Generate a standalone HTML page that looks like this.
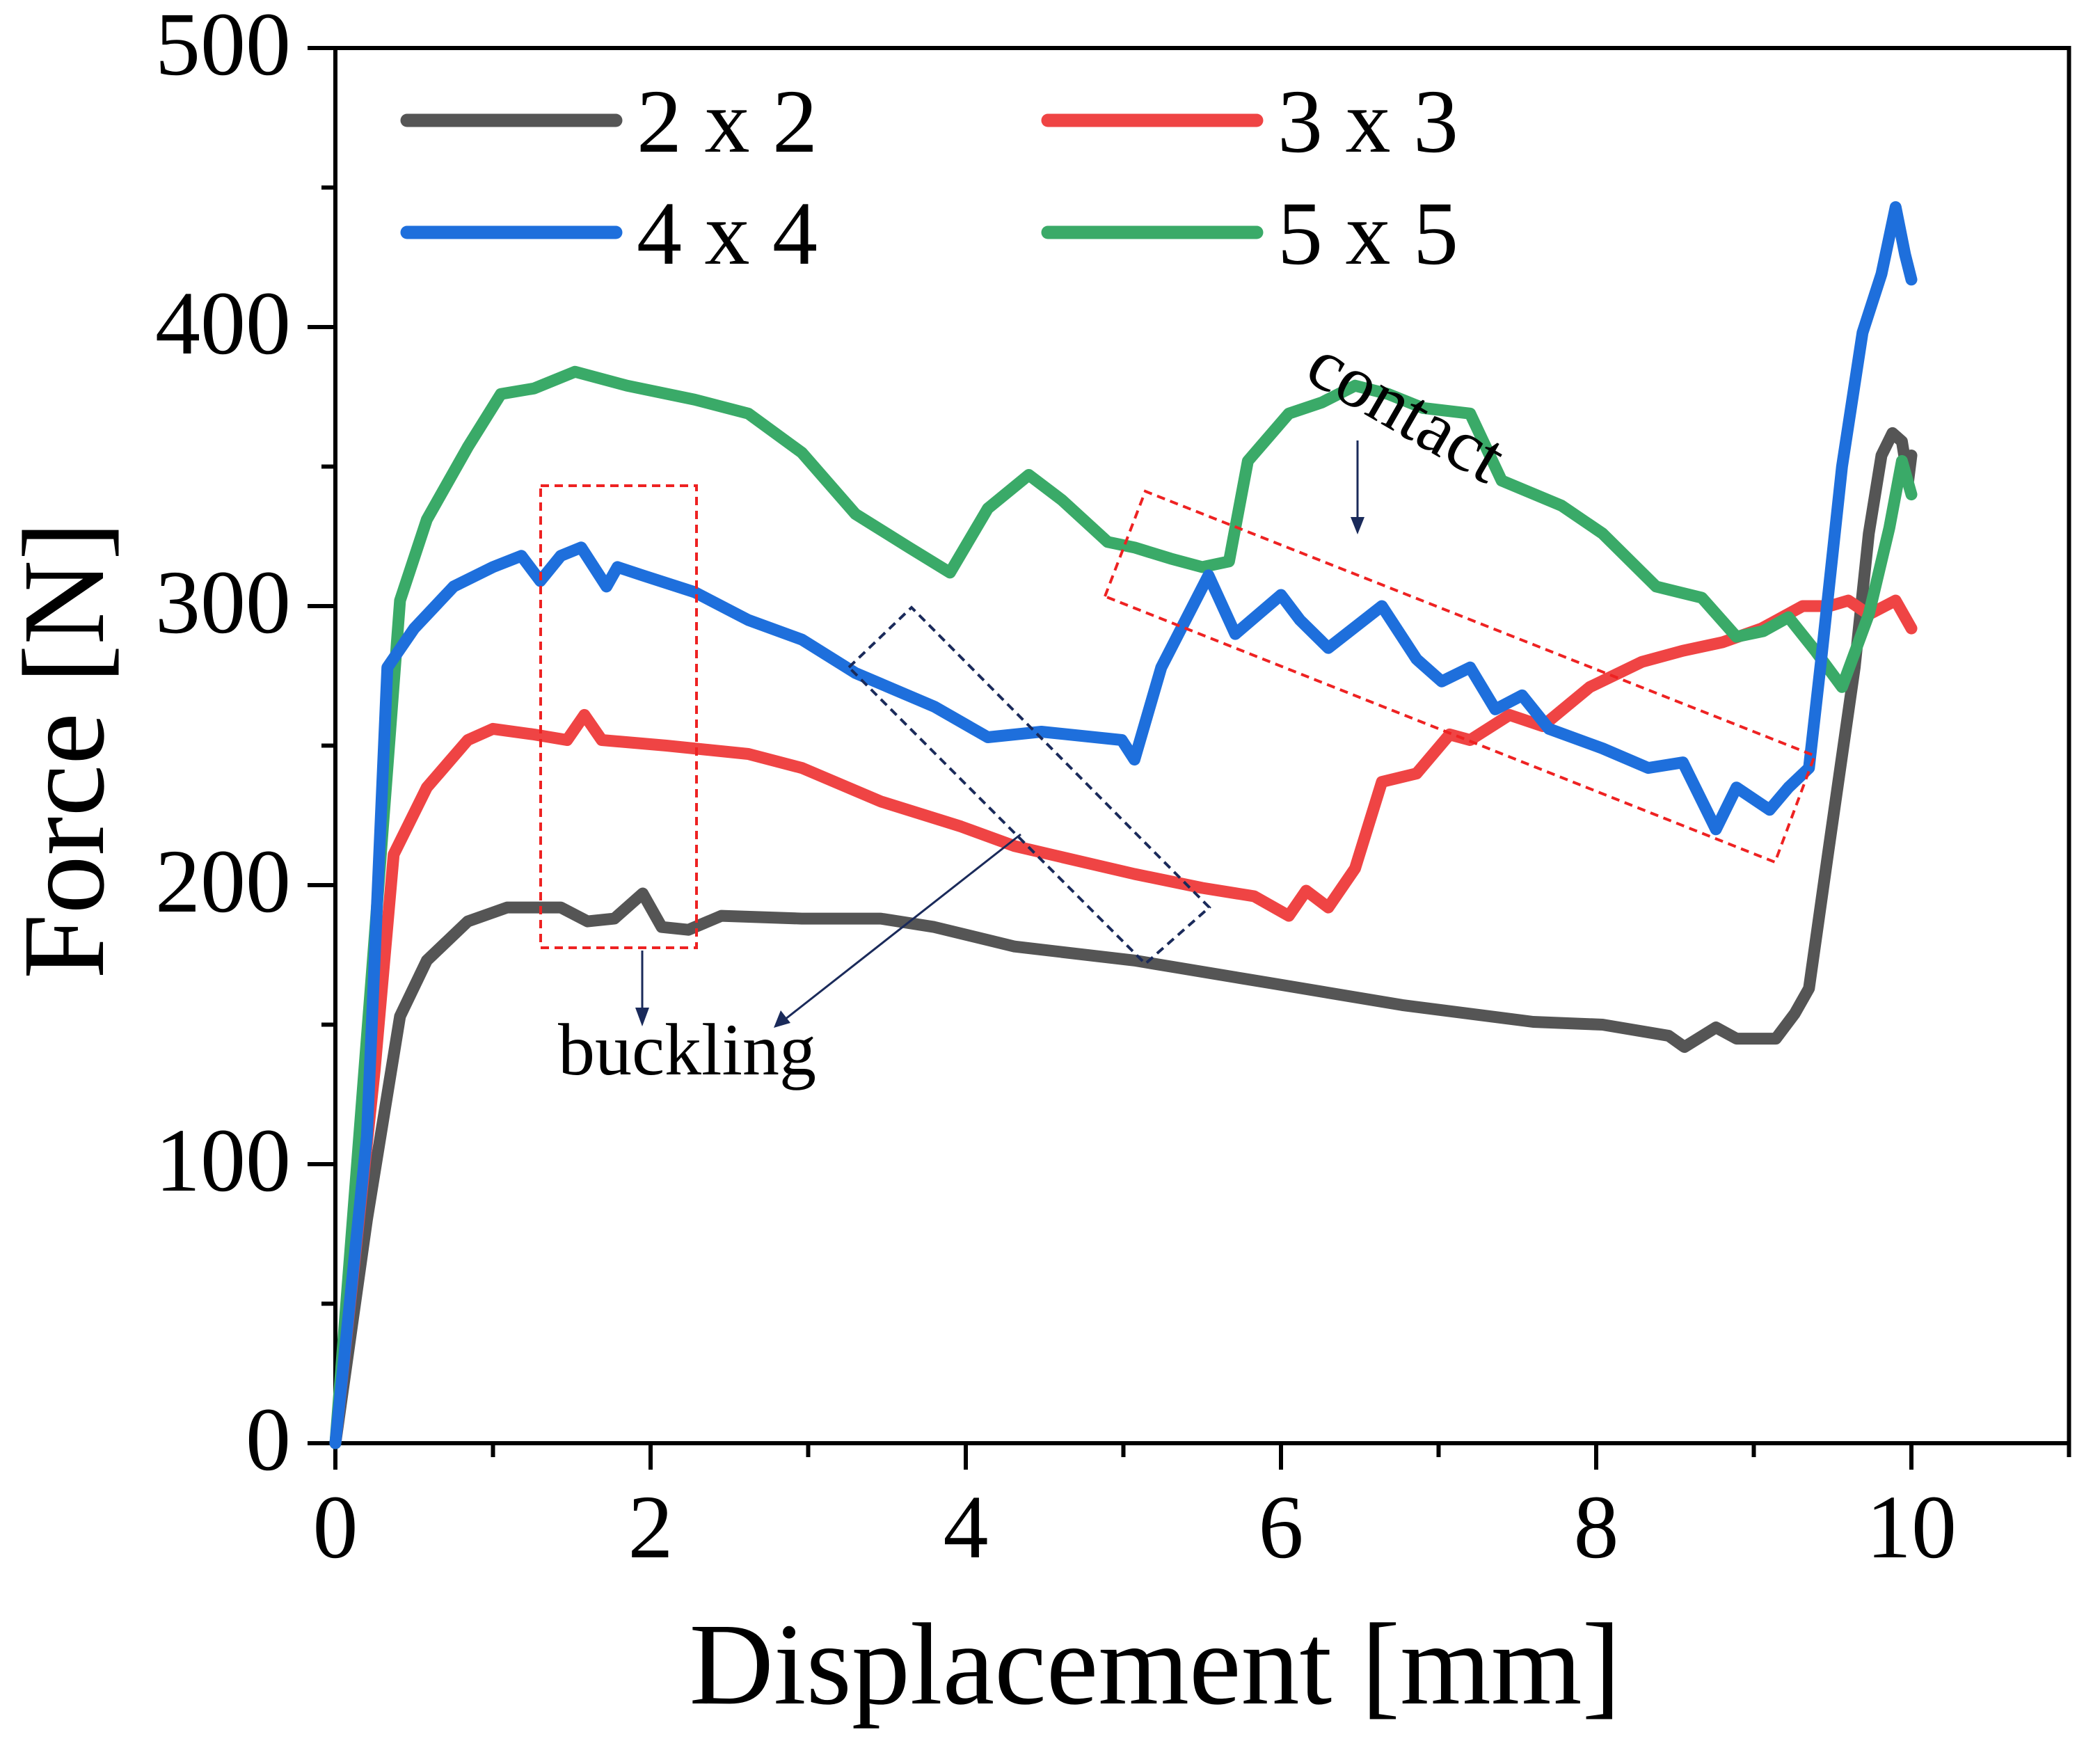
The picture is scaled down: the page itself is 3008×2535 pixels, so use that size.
<!DOCTYPE html>
<html><head><meta charset="utf-8"><style>
html,body{margin:0;padding:0;background:#fff;}
svg{display:block;font-family:"Liberation Serif",serif;}
</style></head><body>
<svg id="chart" width="3008" height="2535" viewBox="0 0 3008 2535" xmlns="http://www.w3.org/2000/svg">
<rect width="3008" height="2535" fill="#fff"/>
<g id="axes"></g>
<g id="series"></g>
<g id="annot">
  <polygon points="777,698 1001,698 1001,1362 777,1362" fill="none" stroke="#ee2222" stroke-width="4" stroke-dasharray="12,8"/>
  <polygon points="1220,959 1310,873 1738,1304 1646,1385" fill="none" stroke="#1a2a5a" stroke-width="4" stroke-dasharray="12,8"/>
  <polygon points="1588,857 1646,706 2608,1086 2551,1239" fill="none" stroke="#ee2222" stroke-width="4" stroke-dasharray="12,8"/>
  <line x1="923" y1="1366" x2="923" y2="1455" stroke="#1a2a5a" stroke-width="3"/>
  <polygon points="913,1448 933,1448 923,1475" fill="#1a2a5a"/>
  <line x1="1467" y1="1199" x2="1128" y2="1465" stroke="#1a2a5a" stroke-width="3"/>
  <polygon points="1112,1477 1122,1452 1136,1470" fill="#1a2a5a"/>
  <text x="802" y="1544" font-size="106" fill="#000">buckling</text>
  <text x="0" y="0" font-size="106" fill="#000" text-anchor="middle" transform="translate(2004,620) rotate(30)">contact</text>
  <line x1="1951" y1="633" x2="1951" y2="750" stroke="#1a2a5a" stroke-width="3"/>
  <polygon points="1941,743 1961,743 1951,768" fill="#1a2a5a"/>
</g>
<g id="legend"></g>
</svg>
<script>
const xTicks=[0,2,4,6,8,10];
const yTicks=[0,100,200,300,400,500];
const seriesNames=["2 x 2","3 x 3","4 x 4","5 x 5"];
const seriesColors=["#555555","#ef4444","#1e6fdc","#3aaa68"];
const x2=[0,0.2,0.41,0.58,0.84,1.09,1.43,1.6,1.77,1.95,2.07,2.24,2.45,2.96,3.46,3.8,4.31,5.07,5.92,6.77,7.6,8.04,8.46,8.56,8.76,8.89,9.14,9.26,9.35,9.47,9.64,9.73,9.81,9.88,9.94,9.98,10.0];
const y2=[0,80,153,173,187,192,192,187,188,197,185,184,189,188,188,185,178,173,165,157,151,150,146,142,149,145,145,154,163,211,278,326,354,362,359,345,354];
const x3=[0,0.25,0.37,0.58,0.84,1.0,1.26,1.47,1.58,1.69,2.1,2.62,2.96,3.46,3.97,4.31,5.07,5.5,5.83,6.05,6.16,6.3,6.47,6.64,6.86,7.07,7.2,7.45,7.66,7.96,8.29,8.55,8.8,9.05,9.31,9.48,9.6,9.73,9.9,10.0];
const y3=[0,134,211,235,252,256,254,252,261,252,250,247,242,230,221,214,204,199,196,189,198,192,206,237,240,254,252,261,257,271,280,284,287,292,300,300,302,297,302,292];
const x4=[0,0.2,0.33,0.5,0.75,1.0,1.18,1.3,1.43,1.56,1.64,1.72,1.79,1.95,2.28,2.62,2.96,3.3,3.8,4.14,4.48,4.99,5.07,5.24,5.54,5.71,6.0,6.12,6.3,6.64,6.86,7.02,7.2,7.36,7.53,7.7,8.04,8.33,8.55,8.76,8.89,9.1,9.22,9.35,9.43,9.56,9.69,9.81,9.9,9.96,10.0];
const y4=[0,110,278,292,307,314,318,309,318,321,314,307,314,311,305,295,288,276,264,253,255,252,245,278,311,290,304,295,285,300,281,273,278,263,268,256,249,242,244,220,235,227,235,242,282,350,398,419,443,426,417];
const x5=[0,0.25,0.41,0.58,0.84,1.05,1.26,1.52,1.85,2.28,2.62,2.96,3.3,3.64,3.9,4.14,4.4,4.61,4.9,5.07,5.3,5.5,5.67,5.79,6.05,6.26,6.47,6.68,6.9,7.2,7.4,7.78,8.04,8.38,8.67,8.89,9.06,9.22,9.39,9.56,9.73,9.86,9.94,10.0];
const y5=[0,182,302,331,357,376,378,384,379,374,369,355,333,321,312,335,347,338,323,321,317,314,316,352,369,373,379,376,371,369,345,336,326,307,303,289,291,296,284,271,297,328,352,340];
const xsList=[x2,x3,x4,x5], ysList=[y2,y3,y4,y5];

const X0=482, XS=226.5, Y0=2074, YS=4.01;
const sx=v=>X0+v*XS, sy=v=>Y0-v*YS;
const NS="http://www.w3.org/2000/svg";
function mk(tag,attrs,parent){const e=document.createElementNS(NS,tag);for(const k in attrs)e.setAttribute(k,attrs[k]);parent.appendChild(e);return e;}
const axes=document.getElementById('axes');
let frame=mk('rect',{x:X0,y:sy(500),width:sx(11)-X0,height:Y0-sy(500),fill:'none',stroke:'#000','stroke-width':6},axes);


for(let v=0;v<=11;v++){
  const major=v%2===0;
  let t=mk('line',{x1:sx(v),x2:sx(v),y1:Y0,y2:Y0+(major?38:20),stroke:'#000','stroke-width':6},axes);
  
  
}
xTicks.forEach(v=>{
  let t=mk('text',{x:sx(v),y:2238,'font-size':130,'text-anchor':'middle',fill:'#000'},axes);t.textContent=v;
  
  
});
for(let v=0;v<=500;v+=50){
  const major=v%100===0;
  let t=mk('line',{x1:X0,x2:X0-(major?40:20),y1:sy(v),y2:sy(v),stroke:'#000','stroke-width':6},axes);
  
  
}
yTicks.forEach(v=>{
  let t=mk('text',{x:418,y:sy(v)+38,'font-size':130,'text-anchor':'end',fill:'#000'},axes);t.textContent=v;
  
  
});
let xt=mk('text',{x:1660,y:2448,'font-size':168,'text-anchor':'middle',fill:'#000'},axes);xt.textContent='Displacement [mm]';


let yt=mk('text',{x:0,y:0,'font-size':168,'text-anchor':'middle',fill:'#000',transform:'translate(148,1078) rotate(-90)'},axes);yt.textContent='Force [N]';



const sg=document.getElementById('series');
const order=[0,1,3,2];
order.forEach(i=>{
  const xs=xsList[i], ys=ysList[i];
  const d=xs.map((x,j)=>(j?'L':'M')+sx(x).toFixed(1)+','+sy(ys[j]).toFixed(1)).join(' ');
  let p=mk('path',{d:d,fill:'none',stroke:seriesColors[i],'stroke-width':17,'stroke-linejoin':'round','stroke-linecap':'round'},sg);
  
  
});

const lg=document.getElementById('legend');
const lpos=[[585,173],[1506,173],[585,334],[1506,334]];
seriesNames.forEach((n,i)=>{
  const [x,y]=lpos[i];
  let l=mk('line',{x1:x,x2:x+300,y1:y,y2:y,stroke:seriesColors[i],'stroke-width':19,'stroke-linecap':'round'},lg);
  
  
  let t=mk('text',{x:x+330,y:y+45,'font-size':130,fill:'#000'},lg);t.textContent=n;
  
  
});
</script>
</body></html>
